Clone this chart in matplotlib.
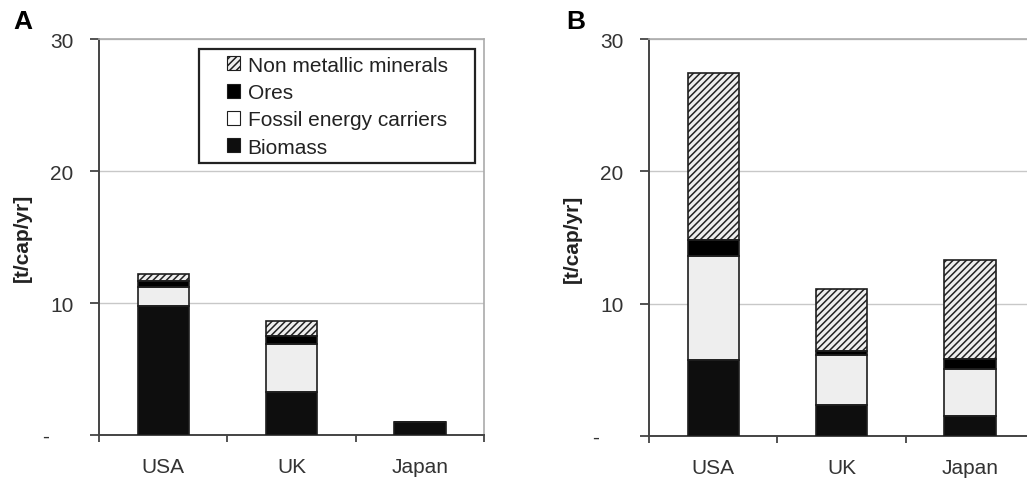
import numpy as np
import matplotlib
matplotlib.use("Agg")
import matplotlib.pyplot as plt
from matplotlib.patches import Patch, Rectangle

plt.rcParams["font.family"] = ["Liberation Sans", "DejaVu Sans"]
plt.rcParams["hatch.linewidth"] = 1.1

countries = ["USA", "UK", "Japan"]
categories = ["Biomass", "Fossil energy carriers", "Ores", "Non metallic minerals"]

# panel A, t/cap/yr per category (stack order bottom to top)
a_biomass = [9.8, 3.25, 1.0]
a_fossil = [1.4, 3.65, 0.0]
a_ores = [0.5, 0.6, 0.0]
a_nmm = [0.5, 1.1, 0.0]

# panel B
b_biomass = [5.75, 2.35, 1.5]
b_fossil = [7.85, 3.75, 3.6]
b_ores = [1.2, 0.3, 0.7]
b_nmm = [12.6, 4.7, 7.5]

styles = {
    "Biomass": dict(facecolor="#0e0e0e", hatch=None, hatchcolor="#0e0e0e"),
    "Fossil energy carriers": dict(facecolor="#eeeeee", hatch=None, hatchcolor="#eeeeee"),
    "Ores": dict(facecolor="#000000", hatch=None, hatchcolor="#000000"),
    "Non metallic minerals": dict(facecolor="#eeeeee", hatch="/////", hatchcolor="#222222"),
}
EDGE = "#1e1e1e"
GRAY = "#333333"
FS = 15


def draw_panel(ax, series):
    x = np.arange(len(countries))
    bottom = np.zeros(len(countries))
    for name, vals in zip(categories, series):
        vals = np.array(vals)
        st = styles[name]
        ax.bar(x, vals, 0.4, bottom=bottom, color=st["facecolor"], hatch=st["hatch"],
               edgecolor=st["hatchcolor"], linewidth=0, zorder=3)
        ax.bar(x, vals, 0.4, bottom=bottom, fill=False, edgecolor=EDGE,
               linewidth=1.2, zorder=4)
        bottom += vals

    ax.set_xlim(-0.5, 2.5)
    ax.set_ylim(0, 30)
    ax.set_yticks([0, 10, 20, 30])
    ax.set_yticklabels(["-    ", "10", "20", "30"])
    ax.set_xticks(x)
    ax.set_xticklabels(countries)
    ax.set_xticks([-0.5, 0.5, 1.5, 2.5], minor=True)
    ax.tick_params(axis="x", which="major", length=0, pad=16, labelsize=FS, labelcolor=GRAY)
    ax.tick_params(axis="x", which="minor", length=5, width=1.3, color="#444444", direction="out")
    ax.tick_params(axis="y", length=6.5, width=1.3, color="#444444", pad=12, labelsize=FS, labelcolor=GRAY)
    ax.grid(axis="y", color="#c8c8c8", linewidth=1.0, zorder=0)
    for side in ["left", "bottom"]:
        ax.spines[side].set_color("#444444")
        ax.spines[side].set_linewidth(1.4)
    for side in ["top", "right"]:
        ax.spines[side].set_color("#aaaaaa")
        ax.spines[side].set_linewidth(1.2)
    ax.set_ylabel("[t/cap/yr]", fontsize=FS, fontweight="bold", color="#222222", labelpad=8)


fig = plt.figure(figsize=(10.27, 4.81), dpi=100)
ax_a = fig.add_axes([99 / 1027, 45 / 481, 385 / 1027, 396 / 481])
ax_b = fig.add_axes([649 / 1027, 44 / 481, 385 / 1027, 397 / 481])

draw_panel(ax_a, [a_biomass, a_fossil, a_ores, a_nmm])
draw_panel(ax_b, [b_biomass, b_fossil, b_ores, b_nmm])

# legend in panel A, top entry first
handles = []
for name in categories[::-1]:
    st = styles[name]
    handles.append(Patch(facecolor=st["facecolor"] if name != "Fossil energy carriers" else "white",
                         hatch=st["hatch"], edgecolor=EDGE, linewidth=0.8, label=name))
ax_a.add_patch(Rectangle((0.26, 0.687), 0.717, 0.288, transform=ax_a.transAxes,
                         fill=True, facecolor="white", edgecolor="#222222", linewidth=1.6, zorder=5))
leg = ax_a.legend(handles=handles, loc="upper left", bbox_to_anchor=(0.332, 0.958),
                  frameon=False, fontsize=FS, handlelength=0.65, handleheight=0.65,
                  handletextpad=0.35, labelspacing=0.4, borderpad=0, borderaxespad=0)
leg.set_zorder(6)
for t in leg.get_texts():
    t.set_color("#222222")

fig.text(13 / 1027, 1 - 22 / 481, "A", fontsize=19, fontweight="bold", ha="left", va="center")
fig.text(566 / 1027, 1 - 22 / 481, "B", fontsize=19, fontweight="bold", ha="left", va="center")

fig.savefig("out.png", dpi=100)
